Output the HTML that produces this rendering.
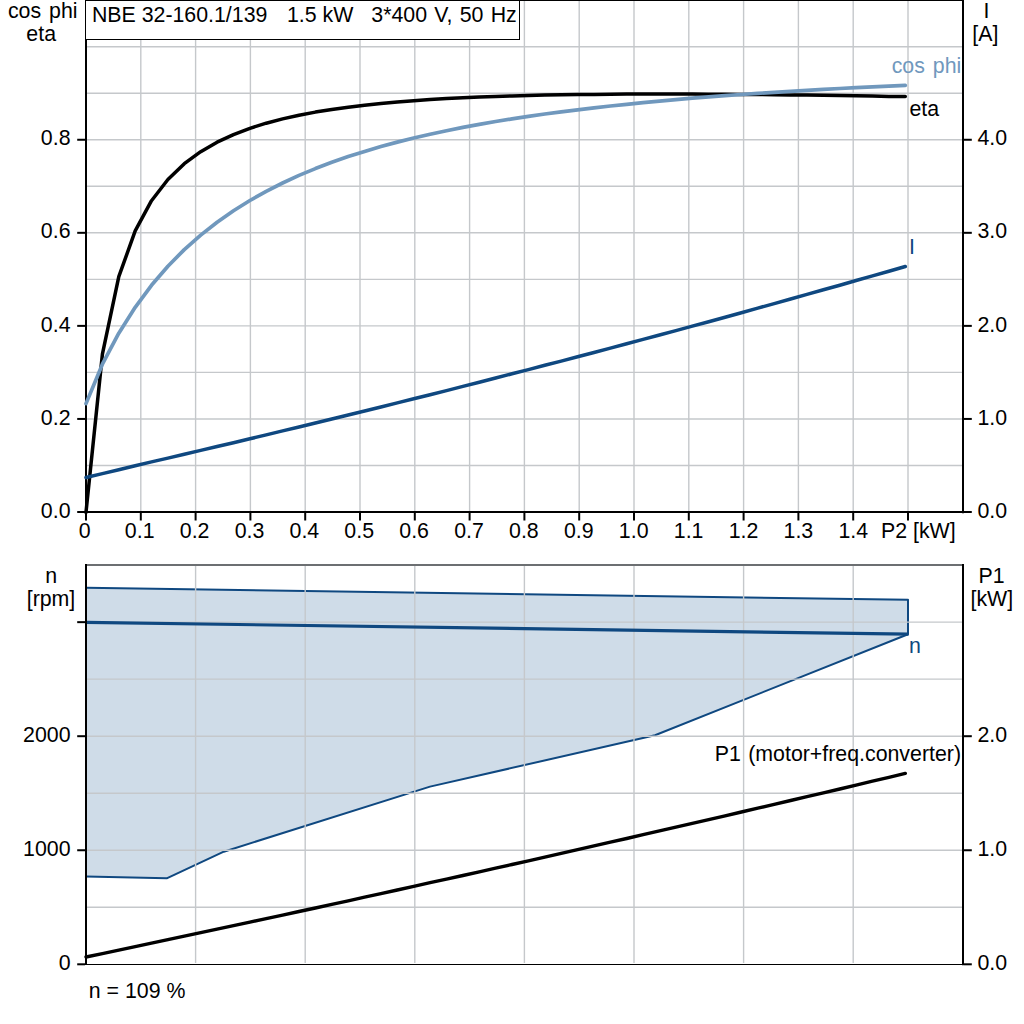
<!DOCTYPE html>
<html><head><meta charset="utf-8"><title>NBE 32-160.1/139</title>
<style>
html,body{margin:0;padding:0;background:#fff;}
body{width:1024px;height:1024px;overflow:hidden;}
svg{display:block;}
text{font-family:"Liberation Sans",Arial,sans-serif;font-size:21.33px;fill:#000;}
.g{stroke:#c5c8cb;stroke-width:1.4;}
.g2{stroke:#c5c8cb;stroke-width:1.4;}
.ax{stroke:#000;stroke-width:2;}
.ax1{stroke:#000;stroke-width:1;shape-rendering:crispEdges;}
.e{text-anchor:end;}
.m{text-anchor:middle;}
</style></head><body>
<svg width="1024" height="1024" viewBox="0 0 1024 1024">
<rect width="1024" height="1024" fill="#fff"/>

<line class="g" x1="87" x2="962" y1="465.47" y2="465.47"/>
<line class="g" x1="87" x2="962" y1="418.94" y2="418.94"/>
<line class="g" x1="87" x2="962" y1="372.41" y2="372.41"/>
<line class="g" x1="87" x2="962" y1="325.88" y2="325.88"/>
<line class="g" x1="87" x2="962" y1="279.35" y2="279.35"/>
<line class="g" x1="87" x2="962" y1="232.82" y2="232.82"/>
<line class="g" x1="87" x2="962" y1="186.29" y2="186.29"/>
<line class="g" x1="87" x2="962" y1="139.76" y2="139.76"/>
<line class="g" x1="87" x2="962" y1="93.23" y2="93.23"/>
<line class="g" x1="87" x2="962" y1="46.70" y2="46.70"/>
<line class="g" x1="140.80" x2="140.80" y1="1" y2="511"/>
<line class="g" x1="195.60" x2="195.60" y1="1" y2="511"/>
<line class="g" x1="250.40" x2="250.40" y1="1" y2="511"/>
<line class="g" x1="305.20" x2="305.20" y1="1" y2="511"/>
<line class="g" x1="360.00" x2="360.00" y1="1" y2="511"/>
<line class="g" x1="414.80" x2="414.80" y1="1" y2="511"/>
<line class="g" x1="469.60" x2="469.60" y1="1" y2="511"/>
<line class="g" x1="524.40" x2="524.40" y1="1" y2="511"/>
<line class="g" x1="579.20" x2="579.20" y1="1" y2="511"/>
<line class="g" x1="634.00" x2="634.00" y1="1" y2="511"/>
<line class="g" x1="688.80" x2="688.80" y1="1" y2="511"/>
<line class="g" x1="743.60" x2="743.60" y1="1" y2="511"/>
<line class="g" x1="798.40" x2="798.40" y1="1" y2="511"/>
<line class="g" x1="853.20" x2="853.20" y1="1" y2="511"/>
<line class="g" x1="908.00" x2="908.00" y1="1" y2="511"/>
<line class="ax" x1="86" x2="86" y1="39" y2="513.3"/>
<line class="ax" x1="963" x2="963" y1="0" y2="513.3"/>
<line class="ax" x1="85" x2="964" y1="512" y2="512"/>
<line class="ax1" x1="85" x2="964" y1="0.5" y2="0.5"/>
<polyline fill="none" stroke="#000" stroke-width="3.5" stroke-linejoin="round" stroke-linecap="round" points="86.0,512.3 102.4,354.2 118.8,276.7 135.2,230.9 151.5,200.7 167.9,179.5 184.3,163.7 200.7,151.7 217.1,142.2 233.5,134.6 249.9,128.3 266.2,123.2 282.6,118.9 299.0,115.2 315.4,112.1 331.8,109.4 348.2,107.2 364.6,105.2 380.9,103.5 397.3,102.0 413.7,100.7 430.1,99.6 446.5,98.6 462.9,97.8 479.3,97.1 495.6,96.5 512.0,95.9 528.4,95.5 544.8,95.1 561.2,94.8 577.6,94.6 594.0,94.4 610.4,94.2 626.7,94.1 643.1,94.1 659.5,94.1 675.9,94.1 692.3,94.1 708.7,94.2 725.1,94.3 741.4,94.4 757.8,94.5 774.2,94.7 790.6,94.9 807.0,95.1 823.4,95.3 839.8,95.6 856.1,95.8 872.5,96.1 888.9,96.4 905.3,96.6"/>
<polyline fill="none" stroke="#0f4880" stroke-width="3.5" stroke-linejoin="round" stroke-linecap="round" points="86.0,477.5 102.4,473.6 118.8,469.7 135.2,465.8 151.5,461.9 167.9,458.1 184.3,454.3 200.7,450.4 217.1,446.5 233.5,442.7 249.9,438.8 266.2,434.9 282.6,430.9 299.0,427.0 315.4,423.0 331.8,419.0 348.2,415.0 364.6,411.0 380.9,407.0 397.3,402.9 413.7,398.8 430.1,394.7 446.5,390.6 462.9,386.4 479.3,382.2 495.6,378.0 512.0,373.8 528.4,369.6 544.8,365.3 561.2,361.1 577.6,356.8 594.0,352.5 610.4,348.1 626.7,343.8 643.1,339.4 659.5,335.0 675.9,330.6 692.3,326.1 708.7,321.7 725.1,317.2 741.4,312.7 757.8,308.1 774.2,303.6 790.6,299.0 807.0,294.4 823.4,289.8 839.8,285.2 856.1,280.5 872.5,275.9 888.9,271.2 905.3,266.5"/>
<polyline fill="none" stroke="#7098bd" stroke-width="3.7" stroke-linejoin="round" stroke-linecap="round" points="86.0,403.6 102.4,364.2 118.8,333.2 135.2,307.3 151.5,285.3 167.9,266.2 184.3,249.6 200.7,235.1 217.1,222.2 233.5,210.7 249.9,200.5 266.2,191.3 282.6,183.0 299.0,175.4 315.4,168.6 331.8,162.3 348.2,156.6 364.6,151.4 380.9,146.6 397.3,142.1 413.7,138.0 430.1,134.2 446.5,130.7 462.9,127.4 479.3,124.4 495.6,121.5 512.0,118.9 528.4,116.4 544.8,114.0 561.2,111.8 577.6,109.8 594.0,107.8 610.4,106.0 626.7,104.3 643.1,102.6 659.5,101.1 675.9,99.6 692.3,98.2 708.7,96.9 725.1,95.7 741.4,94.5 757.8,93.4 774.2,92.3 790.6,91.3 807.0,90.3 823.4,89.4 839.8,88.5 856.1,87.7 872.5,86.9 888.9,86.1 905.3,85.4"/>
<rect x="85.5" y="0.5" width="434" height="39" fill="#fff" stroke="#000" stroke-width="1" shape-rendering="crispEdges"/>
<text x="91.9" y="22">NBE 32-160.1/139</text>
<text x="286.9" y="22">1.5 kW</text>
<text x="371.3" y="22" style="word-spacing:1.3px">3*400 V, 50 Hz</text>
<line class="ax" x1="77.2" x2="85" y1="512.00" y2="512.00"/>
<text class="e" x="70.5" y="517.6">0.0</text>
<line class="ax" x1="77.2" x2="85" y1="418.94" y2="418.94"/>
<text class="e" x="70.5" y="424.5">0.2</text>
<line class="ax" x1="77.2" x2="85" y1="325.88" y2="325.88"/>
<text class="e" x="70.5" y="331.5">0.4</text>
<line class="ax" x1="77.2" x2="85" y1="232.82" y2="232.82"/>
<text class="e" x="70.5" y="238.4">0.6</text>
<line class="ax" x1="77.2" x2="85" y1="139.76" y2="139.76"/>
<text class="e" x="70.5" y="145.4">0.8</text>
<line class="ax" x1="964" x2="971.8" y1="512.00" y2="512.00"/>
<text x="977.5" y="517.6">0.0</text>
<line class="ax" x1="964" x2="971.8" y1="418.94" y2="418.94"/>
<text x="977.5" y="424.5">1.0</text>
<line class="ax" x1="964" x2="971.8" y1="325.88" y2="325.88"/>
<text x="977.5" y="331.5">2.0</text>
<line class="ax" x1="964" x2="971.8" y1="232.82" y2="232.82"/>
<text x="977.5" y="238.4">3.0</text>
<line class="ax" x1="964" x2="971.8" y1="139.76" y2="139.76"/>
<text x="977.5" y="145.4">4.0</text>
<line class="ax" x1="86.00" x2="86.00" y1="513" y2="520.5"/>
<text class="m" x="84.8" y="538">0</text>
<line class="ax" x1="140.80" x2="140.80" y1="513" y2="520.5"/>
<text class="m" x="139.7" y="538">0.1</text>
<line class="ax" x1="195.60" x2="195.60" y1="513" y2="520.5"/>
<text class="m" x="194.6" y="538">0.2</text>
<line class="ax" x1="250.40" x2="250.40" y1="513" y2="520.5"/>
<text class="m" x="249.5" y="538">0.3</text>
<line class="ax" x1="305.20" x2="305.20" y1="513" y2="520.5"/>
<text class="m" x="304.4" y="538">0.4</text>
<line class="ax" x1="360.00" x2="360.00" y1="513" y2="520.5"/>
<text class="m" x="359.2" y="538">0.5</text>
<line class="ax" x1="414.80" x2="414.80" y1="513" y2="520.5"/>
<text class="m" x="414.1" y="538">0.6</text>
<line class="ax" x1="469.60" x2="469.60" y1="513" y2="520.5"/>
<text class="m" x="469.0" y="538">0.7</text>
<line class="ax" x1="524.40" x2="524.40" y1="513" y2="520.5"/>
<text class="m" x="523.9" y="538">0.8</text>
<line class="ax" x1="579.20" x2="579.20" y1="513" y2="520.5"/>
<text class="m" x="578.8" y="538">0.9</text>
<line class="ax" x1="634.00" x2="634.00" y1="513" y2="520.5"/>
<text class="m" x="633.7" y="538">1.0</text>
<line class="ax" x1="688.80" x2="688.80" y1="513" y2="520.5"/>
<text class="m" x="688.6" y="538">1.1</text>
<line class="ax" x1="743.60" x2="743.60" y1="513" y2="520.5"/>
<text class="m" x="743.5" y="538">1.2</text>
<line class="ax" x1="798.40" x2="798.40" y1="513" y2="520.5"/>
<text class="m" x="798.4" y="538">1.3</text>
<line class="ax" x1="853.20" x2="853.20" y1="513" y2="520.5"/>
<text class="m" x="853.3" y="538">1.4</text>
<line class="ax" x1="908.00" x2="908.00" y1="513" y2="520.5"/>
<text class="e" x="955.7" y="538">P2 [kW]</text>
<text class="m" x="42.7" y="18.2" style="word-spacing:2px">cos phi</text>
<text class="m" x="41.2" y="40.5">eta</text>
<text class="m" x="986.4" y="17.8">I</text>
<text class="m" x="985.3" y="40.6">[A]</text>
<text x="891.7" y="72.5" style="fill:#7098bd;word-spacing:2px">cos phi</text>
<text x="909.5" y="115.5">eta</text>
<text x="909" y="254" style="fill:#0f4880">I</text>
<polygon fill="#cfdce8" stroke="none" points="86.0,587.7 908.0,599.8 908.0,634.2 655.0,735.3 430.0,786.6 223.8,851.7 166.7,878.3 86.0,876.6"/>
<polyline fill="none" stroke="#0f4880" stroke-width="2" stroke-linejoin="round" points="86.0,587.7 908.0,599.8 908.0,634.2 655.0,735.3 430.0,786.6 223.8,851.7 166.7,878.3 86.0,876.6"/>
<line class="g2" x1="87" x2="962" y1="907.27" y2="907.27"/>
<line class="g2" x1="87" x2="962" y1="850.25" y2="850.25"/>
<line class="g2" x1="87" x2="962" y1="793.22" y2="793.22"/>
<line class="g2" x1="87" x2="962" y1="736.20" y2="736.20"/>
<line class="g2" x1="87" x2="962" y1="679.17" y2="679.17"/>
<line class="g2" x1="87" x2="962" y1="622.15" y2="622.15"/>
<line class="g2" x1="195.60" x2="195.60" y1="566" y2="963"/>
<line class="g2" x1="305.20" x2="305.20" y1="566" y2="963"/>
<line class="g2" x1="414.80" x2="414.80" y1="566" y2="963"/>
<line class="g2" x1="524.40" x2="524.40" y1="566" y2="963"/>
<line class="g2" x1="634.00" x2="634.00" y1="566" y2="963"/>
<line class="g2" x1="743.60" x2="743.60" y1="566" y2="963"/>
<line class="g2" x1="853.20" x2="853.20" y1="566" y2="963"/>
<line stroke="#0f4880" stroke-width="3.2" x1="86" y1="622.3" x2="908.5" y2="634.2"/>
<polyline fill="none" stroke="#000" stroke-width="3.4" stroke-linejoin="round" stroke-linecap="round" points="86.0,957.0 102.4,953.6 118.8,950.1 135.2,946.6 151.5,943.2 167.9,939.7 184.3,936.2 200.7,932.7 217.1,929.2 233.5,925.7 249.9,922.2 266.2,918.6 282.6,915.1 299.0,911.5 315.4,908.0 331.8,904.4 348.2,900.8 364.6,897.2 380.9,893.6 397.3,890.0 413.7,886.4 430.1,882.7 446.5,879.1 462.9,875.5 479.3,871.8 495.6,868.1 512.0,864.5 528.4,860.8 544.8,857.1 561.2,853.4 577.6,849.7 594.0,845.9 610.4,842.2 626.7,838.5 643.1,834.7 659.5,830.9 675.9,827.2 692.3,823.4 708.7,819.6 725.1,815.8 741.4,812.0 757.8,808.2 774.2,804.4 790.6,800.5 807.0,796.7 823.4,792.8 839.8,789.0 856.1,785.1 872.5,781.2 888.9,777.3 905.3,773.4"/>
<line stroke="#6c6f72" stroke-width="2" x1="85" x2="964" y1="565" y2="565"/>
<line class="ax" x1="86" x2="86" y1="564" y2="964"/>
<line class="ax" x1="963" x2="963" y1="564" y2="965.3"/>
<line class="ax1" x1="85" x2="964" y1="964.5" y2="964.5"/>
<line class="ax" x1="77.2" x2="85" y1="964.30" y2="964.30"/>
<text class="e" x="70.5" y="969.9">0</text>
<line class="ax" x1="77.2" x2="85" y1="850.25" y2="850.25"/>
<text class="e" x="70.5" y="855.9">1000</text>
<line class="ax" x1="77.2" x2="85" y1="736.20" y2="736.20"/>
<text class="e" x="70.5" y="741.8">2000</text>
<line class="ax" x1="77.2" x2="85" y1="622.15" y2="622.15"/>
<line class="ax" x1="964" x2="971.8" y1="964.30" y2="964.30"/>
<text x="977.5" y="969.9">0.0</text>
<line class="ax" x1="964" x2="971.8" y1="850.25" y2="850.25"/>
<text x="977.5" y="855.9">1.0</text>
<line class="ax" x1="964" x2="971.8" y1="736.20" y2="736.20"/>
<text x="977.5" y="741.8">2.0</text>
<text class="m" x="51.3" y="582.8">n</text>
<text class="m" x="51" y="605.5">[rpm]</text>
<text class="m" x="991.5" y="583.3">P1</text>
<text class="m" x="991.8" y="605.6">[kW]</text>
<text x="909" y="652.8" style="fill:#0f4880">n</text>
<text class="e" x="961" y="760.6" style="word-spacing:1.5px">P1 (motor+freq.converter)</text>
<text x="88.8" y="997.8">n = 109 %</text>
</svg></body></html>
